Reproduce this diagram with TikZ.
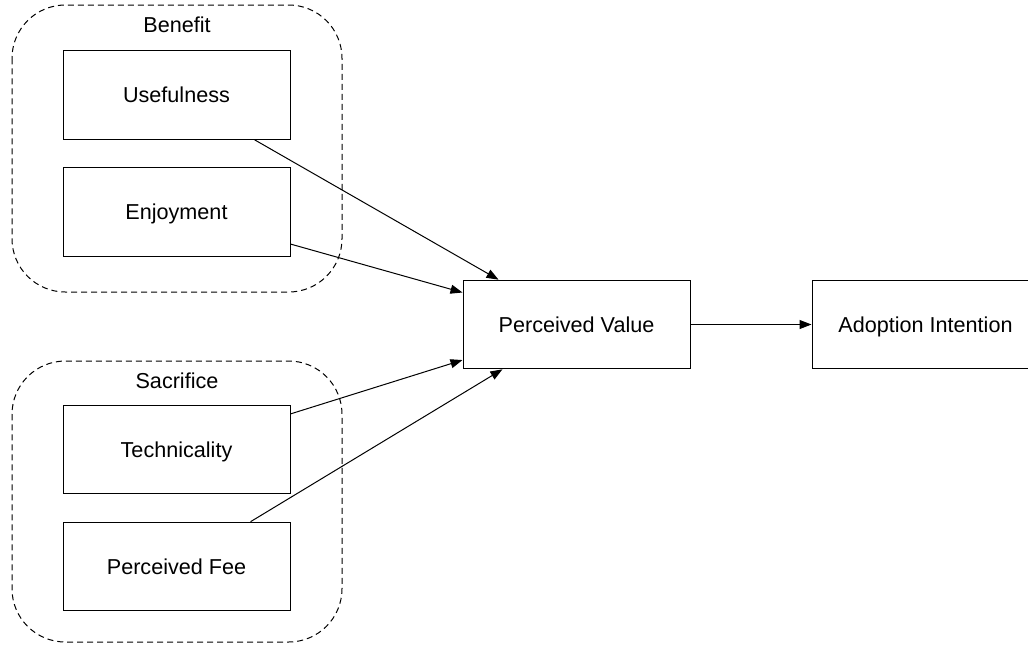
\documentclass[tikz,border=0pt]{standalone}
\usepackage{xcolor}
\usepackage{fontspec}
\setmainfont{Liberation Sans}
\usepackage{tikz}
\usetikzlibrary{arrows.meta}

\tikzset{
  factor/.style={draw, line width=0.75, minimum width=170.25pt, minimum height=66.5pt, inner sep=0pt, text depth=0pt, font=\fontsize{16.2}{19}\selectfont},
  group/.style={draw, line width=0.75, dash pattern={on 4.5pt off 3pt}, rounded corners=40pt},
  grouplabel/.style={inner sep=0.75pt, text depth=0pt, font=\fontsize{16.2}{19}\selectfont},
  link/.style={line width=0.75, -{Triangle[length=9pt,width=6.75pt]}}
}

\begin{document}
\begin{tikzpicture}[x=0.75pt,y=0.75pt,yscale=-1,xscale=1]
\clip (0,0) rectangle (1028,644);

%Rounded Rect (groups)
\draw [group] (12,5) rectangle (342,292);
\draw [group] (12,361) rectangle (342,642);

% Text Node
\node [grouplabel] (benefit) at (177,25) {Benefit};
\node [grouplabel] (sacrifice) at (177,381) {Sacrifice};

%Shape: Rectangle
\node [factor] (use) at (176.5,95) {Usefulness};
\node [factor] (enj) at (176.5,212) {Enjoyment};
\node [factor] (tech) at (176.5,449.5) {Technicality};
\node [factor] (fee) at (176.5,566.5) {Perceived Fee};
\node [factor] (pv) at (576.5,324.5) {Perceived Value};
\node [factor] (ai) at (925.5,324.5) {Adoption Intention};

%Straight Lines
\draw [link] (use) -- (pv);
\draw [link] (enj) -- (pv);
\draw [link] (tech) -- (pv);
\draw [link] (fee) -- (pv);
\draw [link] (pv) -- (ai);

\end{tikzpicture}
\end{document}
